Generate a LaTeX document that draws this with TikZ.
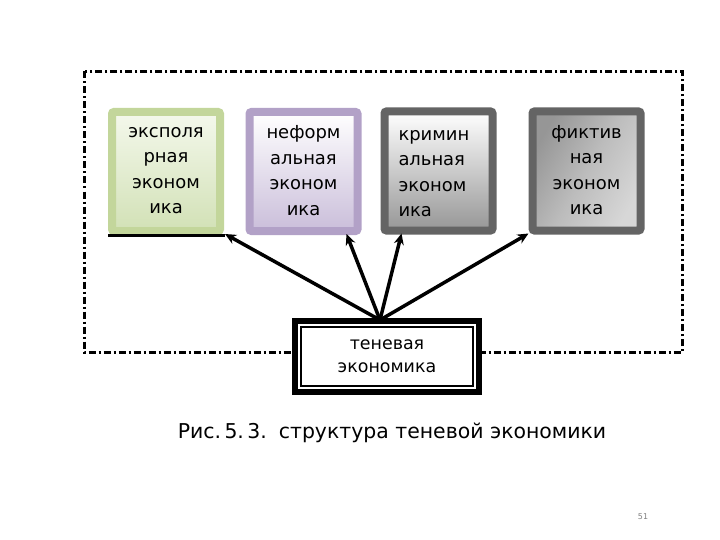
\documentclass[tikz,border=0pt]{standalone}
\usepackage{fontspec}
\setmainfont{DejaVu Sans}
\usetikzlibrary{arrows.meta}

\tikzset{
  ecobox/.style={line width=8bp, rounded corners=2bp, minimum width=108bp,
    minimum height=119bp, inner sep=4bp, font=\fontsize{18}{25.7}\selectfont,
    execute at begin node={\rule{0pt}{17bp}}, execute at end node={\rule[-2bp]{0pt}{2bp}}},
  fanarrow/.style={line width=3.5bp, -{Stealth[length=11bp,width=10bp]}}
}

\begin{document}
\begin{tikzpicture}[x=1bp, y=-1bp]
\useasboundingbox (0,0) rectangle (720,540);

% Outer frame
\draw[line width=3bp, dash pattern=on 7bp off 3bp on 2bp off 3bp] (84.5,71.5) rectangle (682.5,352.5);

% Exploratory economy
\node[ecobox, draw={rgb,255:red,195;green,214;blue,155},
  top color={rgb,255:red,244;green,248;blue,236}, bottom color={rgb,255:red,210;green,225;blue,182},
  align=center] (expl) at (166,171.5) {эксполя\\рная\\эконом\\ика};
\fill[black] ([shift={(0,-1)}]expl.south west) rectangle ([shift={(1,1.5)}]expl.south east);

% Informal economy
\node[ecobox, draw={rgb,255:red,178;green,161;blue,199},
  top color=white, bottom color={rgb,255:red,202;green,190;blue,218},
  align=center] (inf) at (303.5,171.5) {неформ\\альная\\эконом\\ика};

% Criminal economy
\node[ecobox, draw={rgb,255:red,100;green,100;blue,100},
  top color=white, bottom color={rgb,255:red,150;green,150;blue,150},
  align=left, text width=80bp] (crim) at (438.5,171) {кримин\\альная\\эконом\\ика};

% Fictitious economy
\node[ecobox, draw={rgb,255:red,100;green,100;blue,100},
  left color={rgb,255:red,150;green,150;blue,150}, right color={rgb,255:red,215;green,215;blue,215},
  middle color={rgb,255:red,188;green,188;blue,188}, shading angle=60,
  align=center] (fict) at (586.5,171) {фиктив\\ная\\эконом\\ика};

% Shadow economy
\node[draw, fill=white, line width=6bp, minimum width=184bp, minimum height=71bp,
  align=center, font=\fontsize{17.5}{23}\selectfont] (shadow) at (387,356.5) {теневая\\экономика};
\draw[line width=2bp] ([shift={(9,-9)}]shadow.south west) rectangle ([shift={(-9,9)}]shadow.north east);

% Arrows
\draw[fanarrow] ([xshift=-7bp, yshift=-2bp]shadow.north) -- ([shift={(1,-1)}]expl.south east);
\draw[fanarrow] ([xshift=-7bp, yshift=-2bp]shadow.north) -- ([shift={(-15,-1)}]inf.south east);
\draw[fanarrow] ([xshift=-7bp, yshift=-2bp]shadow.north) -- ([shift={(21,-1)}]crim.south west);
\draw[fanarrow] ([xshift=-7bp, yshift=-2bp]shadow.north) -- ([shift={(0,-1)}]fict.south west);

% Caption
\node[font=\fontsize{20.5}{24}\selectfont] (caption) at (392,433) {Рис.\,5.\,3.\hspace{12bp}структура теневой экономики};

% Page number
\node[text=gray, font=\fontsize{8}{10}\selectfont] (page) at (643,517) {51};

\end{tikzpicture}
\end{document}
